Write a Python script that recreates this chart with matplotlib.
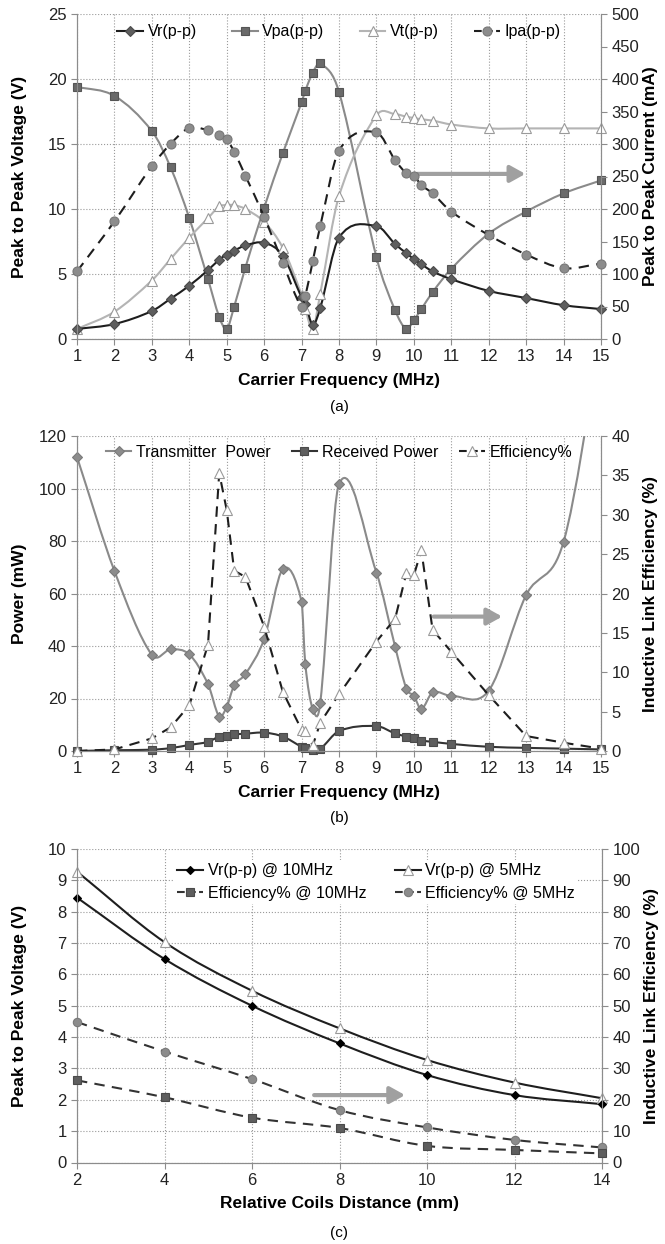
import matplotlib.pyplot as plt
import numpy as np
from matplotlib.path import Path
from matplotlib.patches import PathPatch
from matplotlib.lines import Line2D

plt.rcParams['font.family'] = ['Liberation Sans', 'DejaVu Sans']

# ---- (a) voltages / current vs carrier frequency
freq = [1, 2, 3, 3.5, 4, 4.5, 4.8, 5, 5.2, 5.5, 6, 6.5, 7, 7.1, 7.3, 7.5,
        8, 9, 9.5, 9.8, 10, 10.2, 10.5, 11, 12, 13, 14, 15]
vr = [0.77, 1.15, 2.15, 3.1, 4.1, 5.3, 6.1, 6.5, 6.8, 7.2, 7.4, 6.4, 3.2, 2.7, 1.1, 2.4,
      7.8, 8.7, 7.3, 6.6, 6.15, 5.75, 5.2, 4.6, 3.7, 3.15, 2.6, 2.3]
vpa = [19.4, 18.7, 16.0, 13.2, 9.3, 4.6, 1.7, 0.77, 2.5, 5.5, 10.1, 14.3, 18.2, 19.1, 20.5, 21.2,
       19.0, 6.3, 2.2, 0.77, 1.45, 2.3, 3.6, 5.4, 8.1, 9.8, 11.2, 12.2]
vt = [0.77, 2.1, 4.5, 6.15, 7.8, 9.3, 10.2, 10.3, 10.3, 10.0, 9.0, 7.0, 3.4, 2.3, 0.77, 3.5,
      11.0, 17.2, 17.3, 17.1, 17.0, 16.9, 16.8, 16.5, 16.2, 16.2, 16.2, 16.2]
ipa = [104, 181, 266, 300, 325, 321, 314, 307, 288, 251, 188, 117, 49, 66, 120, 174,
       290, 318, 275, 255, 251, 237, 224, 196, 160, 130, 109, 116]

# ---- (b) power / efficiency vs carrier frequency
p_tx = [112, 68.6, 36.6, 38.7, 36.8, 25.5, 13.1, 16.9, 25, 29.3, 42.7, 69.3, 56.9, 33, 16, 18.4,
        101.7, 68, 39.7, 23.8, 21, 16, 22.3, 21, 23, 59.4, 79.7, 158]
p_rx = [0, 0.3, 0.5, 1.1, 2.3, 3.5, 5.5, 5.9, 6.3, 6.6, 7.0, 5.5, 1.6, 1.0, 0.3, 0.8,
        7.6, 9.5, 6.7, 5.5, 4.8, 4.0, 3.5, 2.7, 1.6, 1.2, 0.9, 0.6]
eff_b = [0, 0.2, 1.6, 3.0, 5.8, 13.5, 35.3, 30.6, 22.9, 22.1, 15.8, 7.5, 2.7, 2.6, 0.7, 3.6,
         7.2, 13.9, 16.8, 22.6, 22.3, 25.5, 15.4, 12.6, 7.1, 1.9, 1.05, 0.3]

# ---- (c) vs coil distance
dist = [2, 4, 6, 8, 10, 12, 14]
vr10 = [8.45, 6.49, 5.0, 3.8, 2.79, 2.15, 1.86]
vr5 = [9.28, 7.03, 5.48, 4.28, 3.27, 2.55, 2.05]
eff10 = [26.2, 20.8, 14.3, 11.0, 5.3, 4.0, 2.9]
eff5 = [44.8, 35.4, 26.6, 16.7, 11.2, 7.2, 4.8]


def smooth(ax, x, y, color, lw=1.5, ls='-', z=2):
    # excel-like smoothed line: cubic bezier through the data points
    x = np.asarray(x, float)
    y = np.asarray(y, float)
    m = np.empty(len(x))
    m[1:-1] = (y[2:] - y[:-2]) / (x[2:] - x[:-2])
    m[0] = (y[1] - y[0]) / (x[1] - x[0])
    m[-1] = (y[-1] - y[-2]) / (x[-1] - x[-2])
    verts = [(x[0], y[0])]
    codes = [Path.MOVETO]
    for i in range(len(x) - 1):
        h = x[i + 1] - x[i]
        verts += [(x[i] + h / 3, y[i] + m[i] * h / 3),
                  (x[i + 1] - h / 3, y[i + 1] - m[i + 1] * h / 3),
                  (x[i + 1], y[i + 1])]
        codes += [Path.CURVE4] * 3
    ax.add_patch(PathPatch(Path(verts, codes), fill=False, edgecolor=color,
                           lw=lw, ls=ls, zorder=z, capstyle='butt'))


def marks(ax, x, y, marker, ms, fc, ec, z=3):
    ax.plot(x, y, ls='none', marker=marker, ms=ms, mfc=fc, mec=ec, mew=0.8,
            zorder=z, clip_on=False)


def handle(color, ls, marker, ms, fc, ec):
    return Line2D([], [], color=color, ls=ls, lw=1.5, marker=marker, ms=ms,
                  mfc=fc, mec=ec, mew=0.8)


def style(ax, ax2):
    for a in (ax, ax2):
        for s in a.spines.values():
            s.set_color('#8c8c8c')
        a.spines['top'].set_visible(False)
        a.tick_params(labelsize=12, colors='#8c8c8c', labelcolor='#222222',
                      length=4, width=0.8)
    ax.grid(True, ls=':', color='#9a9a9a', lw=0.8)
    ax.set_axisbelow(True)


def arrow(ax, x0, x1, y):
    ax.annotate('', xy=(x1, y), xytext=(x0, y), zorder=6,
                arrowprops=dict(arrowstyle='-|>,head_length=0.45,head_width=0.25',
                                color='#a0a0a0', lw=3, shrinkA=0, shrinkB=0,
                                mutation_scale=20))


fig = plt.figure(figsize=(6.65, 12.44), dpi=100)
W, H = 665, 1244

def box(l, t, r, b):
    return [l / W, 1 - b / H, (r - l) / W, (b - t) / H]

dark = '#1e1e1e'
lab = dict(fontsize=12.5, fontweight='bold')

# ================= (a)
ax = fig.add_axes(box(77, 14, 601, 339))
ax2 = ax.twinx()
smooth(ax, freq, vpa, '#8a8a8a')
smooth(ax, freq, vt, '#b4b4b4')
smooth(ax, freq, vr, dark)
smooth(ax2, freq, ipa, dark, ls=(0, (5, 3.5)))
marks(ax, freq, vpa, 's', 6, '#6a6a6a', '#555555')
marks(ax, freq, vt, '^', 7, 'white', '#9a9a9a')
marks(ax, freq, vr, 'D', 5.5, '#5e5e5e', '#4a4a4a')
marks(ax2, freq, ipa, 'o', 6.5, '#8c8c8c', '#777777')
ax.set_xlim(1, 15)
ax.set_ylim(0, 25)
ax2.set_ylim(0, 500)
ax.set_xticks(range(1, 16))
ax.set_yticks(range(0, 26, 5))
ax2.set_yticks(range(0, 501, 50))
style(ax, ax2)
arrow(ax, 10.09, 12.98, 12.7)
ax.set_xlabel('Carrier Frequency (MHz)', labelpad=6, **lab)
ax.set_ylabel('Peak to Peak Voltage (V)', **lab)
ax2.set_ylabel('Peak to Peak Current (mA)', **lab)
ax.yaxis.set_label_coords(-0.095, 0.5)
ax2.yaxis.set_label_coords(1.08, 0.5)
hs = [handle(dark, '-', 'D', 5.5, '#5e5e5e', '#4a4a4a'),
      handle('#8a8a8a', '-', 's', 6, '#6a6a6a', '#555555'),
      handle('#b4b4b4', '-', '^', 7, 'white', '#9a9a9a'),
      handle(dark, '--', 'o', 6.5, '#8c8c8c', '#777777')]
ax2.legend(hs, ['Vr(p-p)', 'Vpa(p-p)', 'Vt(p-p)', 'Ipa(p-p)'], ncol=4,
           loc='center', bbox_to_anchor=(0.5, 0.945), frameon=False, fontsize=11.5,
           handlelength=1.6, handletextpad=0.3, columnspacing=2.2, numpoints=1)
fig.text(339 / W, 1 - 407 / H, '(a)', ha='center', va='center', fontsize=11)

# ================= (b)
ax = fig.add_axes(box(77, 436, 601, 751))
ax2 = ax.twinx()
smooth(ax, freq, p_tx, '#8a8a8a')
smooth(ax, freq, p_rx, '#333333')
ax2.plot(freq, eff_b, color=dark, lw=1.5, ls=(0, (5, 3.5)), zorder=2)
marks(ax, freq, np.ma.masked_greater(p_tx, 120), 'D', 5.5, '#8c8c8c', '#7a7a7a')
marks(ax, freq, p_rx, 's', 5.5, '#5e5e5e', '#4a4a4a')
marks(ax2, freq, eff_b, '^', 6.5, 'white', '#9a9a9a')
ax.set_xlim(1, 15)
ax.set_ylim(0, 120)
ax2.set_ylim(0, 40)
ax.set_xticks(range(1, 16))
ax.set_yticks(range(0, 121, 20))
ax2.set_yticks(range(0, 41, 5))
style(ax, ax2)
arrow(ax, 10.53, 12.36, 51.2)
ax.set_xlabel('Carrier Frequency (MHz)', labelpad=6, **lab)
ax.set_ylabel('Power (mW)', **lab)
ax2.set_ylabel('Inductive Link Efficiency (%)', **lab)
ax.yaxis.set_label_coords(-0.095, 0.5)
ax2.yaxis.set_label_coords(1.08, 0.5)
hs = [handle('#8a8a8a', '-', 'D', 5.5, '#8c8c8c', '#7a7a7a'),
      handle('#333333', '-', 's', 5.5, '#5e5e5e', '#4a4a4a'),
      handle(dark, '--', '^', 6.5, 'white', '#9a9a9a')]
ax2.legend(hs, ['Transmitter  Power', 'Received Power', 'Efficiency%'], ncol=3,
           loc='center', bbox_to_anchor=(0.5, 0.949), frameon=False, fontsize=11.5,
           handlelength=1.6, handletextpad=0.3, columnspacing=1.3, numpoints=1)
fig.text(339 / W, 1 - 818 / H, '(b)', ha='center', va='center', fontsize=11)

# ================= (c)
ax = fig.add_axes(box(77, 849, 602, 1162.5))
ax2 = ax.twinx()
smooth(ax, dist, vr5, dark)
smooth(ax, dist, vr10, dark)
smooth(ax2, dist, eff5, '#333333', ls=(0, (5, 3.5)))
smooth(ax2, dist, eff10, '#333333', ls=(0, (5, 3.5)))
marks(ax, dist, vr5, '^', 6.5, 'white', '#9a9a9a')
marks(ax, dist, vr10, 'D', 4.5, 'black', 'black')
marks(ax2, dist, eff5, 'o', 6, '#8c8c8c', '#7a7a7a')
marks(ax2, dist, eff10, 's', 5.5, '#5e5e5e', '#4a4a4a')
ax.set_xlim(2, 14)
ax.set_ylim(0, 10)
ax2.set_ylim(0, 100)
ax.set_xticks(range(2, 15, 2))
ax.set_yticks(range(0, 11))
ax2.set_yticks(range(0, 101, 10))
style(ax, ax2)
arrow(ax, 7.42, 9.5, 2.15)
ax.set_xlabel('Relative Coils Distance (mm)', labelpad=6, **lab)
ax.set_ylabel('Peak to Peak Voltage (V)', **lab)
ax2.set_ylabel('Inductive Link Efficiency (%)', **lab)
ax.yaxis.set_label_coords(-0.095, 0.5)
ax2.yaxis.set_label_coords(1.08, 0.5)
hs = [handle(dark, '-', 'D', 4.5, 'black', 'black'),
      handle('#333333', '--', 's', 5.5, '#5e5e5e', '#4a4a4a'),
      handle(dark, '-', '^', 6.5, 'white', '#9a9a9a'),
      handle('#333333', '--', 'o', 6, '#8c8c8c', '#7a7a7a')]
leg = ax2.legend(hs, ['Vr(p-p) @ 10MHz', 'Efficiency% @ 10MHz',
                      'Vr(p-p) @ 5MHz', 'Efficiency% @ 5MHz'], ncol=2,
                 loc='center', bbox_to_anchor=(0.57, 0.895), frameon=True,
                 fancybox=False, edgecolor='none', facecolor='white', framealpha=1,
                 fontsize=11.5, handlelength=1.6, handletextpad=0.3,
                 columnspacing=1.8, labelspacing=0.45, numpoints=1, borderpad=0.2)
fig.text(339 / W, 1 - 1233 / H, '(c)', ha='center', va='center', fontsize=11)

fig.savefig('out.png', dpi=100)
